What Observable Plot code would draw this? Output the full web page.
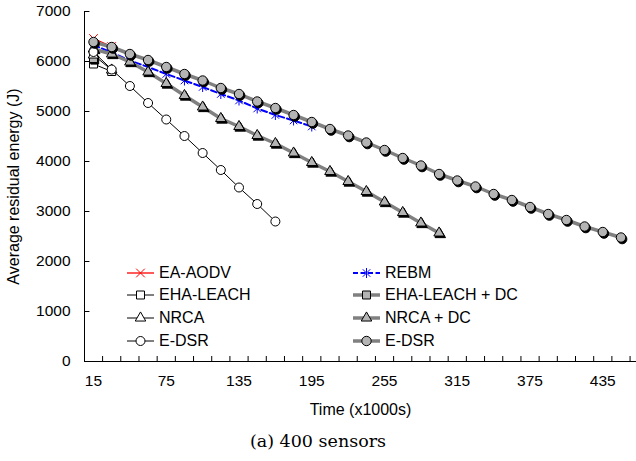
<!DOCTYPE html>
<html><head><meta charset="utf-8">
<script src="https://cdn.jsdelivr.net/npm/d3@7"></script>
<script src="https://cdn.jsdelivr.net/npm/@observablehq/plot@0.6"></script>
<style>
body{margin:0;background:#fff;}
#wrap{position:relative;width:636px;height:461px;font-family:Arial,"Liberation Sans",sans-serif;color:#000;}
.lg{position:absolute;height:22px;display:flex;align-items:center;font-size:16px;white-space:nowrap;}
.lg svg{margin-right:3px;}
#caption{position:absolute;left:0;top:429px;width:636px;text-align:center;font-family:"DejaVu Serif",serif;font-size:17.5px;line-height:24px;}
</style></head>
<body>
<div id="wrap"><div id="chart"></div><div id="legend"></div><div id="caption">(a) 400 sensors</div></div>
<script>
// ---- data ----
const times = [15,30,45,60,75,90,105,120,135,150,165,180,195,210,225,240,255,270,285,300,315,330,345,360,375,390,405,420,435,450];
const xTickLabels = [15,75,135,195,255,315,375,435];
const yTicks = [0,1000,2000,3000,4000,5000,6000,7000];
const seriesNames = ["EA-AODV","REBM","EHA-LEACH","EHA-LEACH + DC","NRCA","NRCA + DC","E-DSR","E-DSR"];
const eaAodv = [6460, 6300];
const rebm = [6330, 6180, 6020, 5890, 5750, 5620, 5490, 5350, 5220, 5060, 4930, 4820, 4700];
const ehaLeach = [5950, 5800];
const ehaLeachDc = [6060];
const nrca = [6130, 5830];
const nrcaDc = [6250, 6150, 5990, 5790, 5560, 5320, 5090, 4860, 4700, 4520, 4360, 4170, 3980, 3800, 3600, 3400, 3190, 2980, 2770, 2570];
const eDsr = [6190, 5840, 5510, 5170, 4840, 4510, 4170, 3830, 3480, 3150, 2800];
const eDsrDc = [6390, 6290, 6150, 6030, 5890, 5750, 5620, 5470, 5350, 5200, 5070, 4930, 4790, 4650, 4520, 4380, 4230, 4070, 3920, 3750, 3620, 3500, 3350, 3230, 3090, 2950, 2830, 2700, 2590, 2480];

// ---- styles ----
const star = {draw(ctx, size){const r = Math.sqrt(size/Math.PI); const d = r*0.75;
  ctx.moveTo(-d,-d);ctx.lineTo(d,d);ctx.moveTo(-d,d);ctx.lineTo(d,-d);ctx.moveTo(0,-r);ctx.lineTo(0,r);}};
const grayLine = "#808080", grayFill = "#B4B4B4";
const styles = [
  {stroke:"#FF0000", sw:1.3, dash:null, symbol:d3.symbolTimes, fill:"none", ms:"#FF0000", r:4, shadow:false},
  {stroke:"#0000FF", sw:2, dash:"6,3", symbol:star, fill:"none", ms:"#0000FF", r:5, shadow:false},
  {stroke:"#000", sw:1, dash:null, symbol:d3.symbolSquare, fill:"#fff", ms:"#000", r:4.5, shadow:false},
  {stroke:grayLine, sw:3.5, dash:null, symbol:d3.symbolSquare, fill:grayFill, ms:"#000", r:4.5, shadow:true},
  {stroke:"#000", sw:1, dash:null, symbol:d3.symbolTriangle, fill:"#fff", ms:"#000", r:3.9, shadow:false},
  {stroke:grayLine, sw:3.5, dash:null, symbol:d3.symbolTriangle, fill:grayFill, ms:"#000", r:3.9, shadow:true},
  {stroke:"#000", sw:1, dash:null, symbol:d3.symbolCircle, fill:"#fff", ms:"#000", r:4.5, shadow:false},
  {stroke:grayLine, sw:3.5, dash:null, symbol:d3.symbolCircle, fill:grayFill, ms:"#000", r:4.7, shadow:true}
];
const seriesValues = [eaAodv, rebm, ehaLeach, ehaLeachDc, nrca, nrcaDc, eDsr, eDsrDc];

const xMin = 7.58, xMax = 462.8;
const marks = [];
marks.push(Plot.ruleY([0], {stroke:"#000", strokeWidth:1}));
marks.push(Plot.ruleX([xMin], {stroke:"#000", strokeWidth:1}));
marks.push(Plot.ruleX(d3.range(22.5, xMax, 15), {y1:0, y2:100, stroke:"#000"}));
marks.push(Plot.ruleY(yTicks, {x1:xMin, x2:xMin+4.5, stroke:"#000"}));

seriesValues.forEach((vals, i) => {
  const s = styles[i];
  const data = vals.map((v, k) => ({t: times[k], v}));
  if (data.length > 1) marks.push(Plot.line(data, {x:"t", y:"v", stroke:s.stroke, strokeWidth:s.sw, strokeDasharray:s.dash, curve:"linear"}));
  if (s.shadow) marks.push(Plot.dot(data, {x:"t", y:"v", symbol:s.symbol, r:s.r, fill:"#000", stroke:"#000", strokeWidth:1, dx:1.2, dy:1.6}));
  marks.push(Plot.dot(data, {x:"t", y:"v", symbol:s.symbol, r:s.r, fill:s.fill, stroke:s.ms, strokeWidth:1}));
});

marks.push(Plot.axisX({ticks:xTickLabels, tickSize:0, tickPadding:13, tickFormat:d=>String(d), label:null}));
marks.push(Plot.axisX({ticks:[], tickSize:0, label:"Time (x1000s)", labelAnchor:"center", labelArrow:"none", labelOffset:53, dx:-8, fontSize:16}));
marks.push(Plot.axisY({ticks:yTicks, tickSize:0, tickPadding:14, tickFormat:d=>String(d), label:null}));
marks.push(Plot.axisY({ticks:[], tickSize:0, label:"Average residual energy (J)", labelAnchor:"center", labelArrow:"none", labelOffset:77, fontSize:16}));

const chart = Plot.plot({
  width:636, height:425,
  marginLeft:84, marginRight:0, marginTop:11, marginBottom:64,
  x:{type:"linear", domain:[xMin, xMax]},
  y:{domain:[0,7000]},
  style:{fontFamily:"Arial, 'Liberation Sans', sans-serif", fontSize:"15.5px", color:"#000", background:"#fff", overflow:"visible"},
  marks
});
document.getElementById("chart").appendChild(chart);

// ---- legend (HTML) ----
const legend = d3.select("#legend");
const rowCenters = [272.7, 295, 318.3, 340.5];
const colLeft = [126, 352];
seriesNames.forEach((name, i) => {
  const s = styles[i];
  const col = i % 2, row = Math.floor(i / 2);
  const item = legend.append("div").attr("class","lg")
    .style("left", colLeft[col] + "px").style("top", (rowCenters[row] - 11) + "px");
  const svg = item.append("svg").attr("width", 30).attr("height", 16);
  svg.append("line").attr("x1",1).attr("x2",28).attr("y1",8).attr("y2",8)
    .attr("stroke", s.stroke).attr("stroke-width", s.sw).attr("stroke-dasharray", s.dash ? "5,2.5" : null);
  const p = d3.symbol(s.symbol, s.r * s.r * Math.PI)();
  svg.append("path").attr("d", p).attr("transform","translate(14.5,8)")
    .attr("fill", s.fill).attr("stroke", s.ms).attr("stroke-width", 1);
  item.append("span").text(name);
});
</script>
</body></html>
